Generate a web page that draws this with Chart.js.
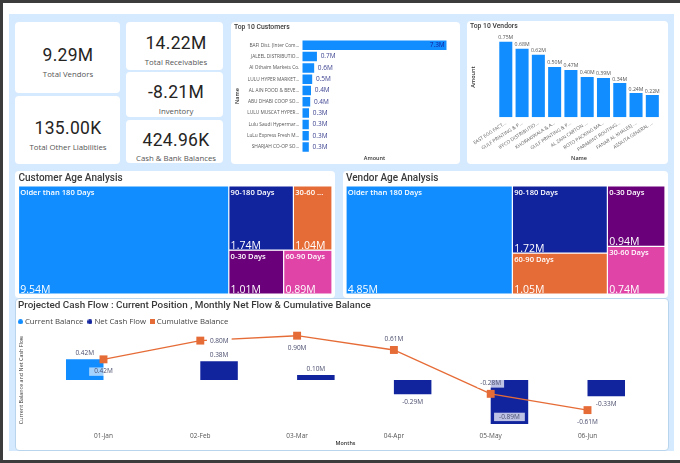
<!DOCTYPE html>
<html><head><meta charset="utf-8">
<script src="https://cdn.jsdelivr.net/npm/chart.js@4"></script>
<style>
html,body{margin:0;padding:0;background:#fff;width:680px;height:463px;overflow:hidden}
#root{position:absolute;left:0;top:0;width:680px;height:463px;filter:blur(.35px);font-family:"Open Sans",sans-serif}
.f{position:absolute;background:#3c3c3c}
#panel{position:absolute;left:9px;top:14px;width:665px;height:437px;background:#d6eaff}
.card{position:absolute;background:#fff;border-radius:4px}
canvas{position:absolute}
.kv,.kl{position:absolute;transform:translate(-50%,-50%);white-space:nowrap;text-align:center}
.kv{font:400 17.5px Roboto,sans-serif;letter-spacing:.3px;color:#252423}
.kl{font:400 7.8px "Open Sans",sans-serif;color:#555}
</style></head><body><div id="root">
<div class="f" style="left:0;top:0;width:680px;height:3px"></div>
<div class="f" style="left:0;top:0;width:3px;height:463px"></div>
<div class="f" style="left:0;top:460px;width:680px;height:3px"></div>
<div id="panel"></div>
<div class="card" style="left:15px;top:22px;width:105px;height:71px"></div>
<div class="card" style="left:15px;top:96px;width:105px;height:68px"></div>
<div class="card" style="left:126px;top:22px;width:97px;height:48px"></div>
<div class="card" style="left:126px;top:72px;width:97px;height:45px"></div>
<div class="card" style="left:126px;top:120px;width:97px;height:43px"></div>
<div class="card" style="left:231px;top:22px;width:229px;height:142px"></div>
<div class="card" style="left:467px;top:21px;width:201px;height:143px"></div>
<div class="card" style="left:15px;top:171px;width:320px;height:127px"></div>
<div class="card" style="left:343px;top:171px;width:325px;height:127px"></div>
<div class="card" style="left:15px;top:298px;width:652px;height:151px;border:1px solid #b9d5ee;box-sizing:content-box"></div>
<canvas id="cCust" style="left:231px;top:22px" width="229" height="142"></canvas>
<canvas id="cVend" style="left:467px;top:21px" width="201" height="143"></canvas>
<canvas id="cAgeC" style="left:15px;top:171px" width="320" height="127"></canvas>
<canvas id="cAgeV" style="left:343px;top:171px" width="325" height="127"></canvas>
<canvas id="cCash" style="left:15px;top:298px" width="653" height="152"></canvas>
</div>
<script>
const kpiValues=["9.29M","135.00K","14.22M","-8.21M","424.96K"];
const kpiLabels=["Total Vendors","Total Other Liabilities","Total Receivables","Inventory","Cash & Bank Balances"];

const customerNames=["BAFI Dist. (Inter Com...","JALEEL DISTRIBUTIO...","Al Othaim Markets Co.","LULU HYPER MARKET...","AL AIN FOOD & BEVE...","ABU DHABI COOP SO...","LULU MUSCAT HYPER...","Lulu Saudi Hypermar...","LuLu Express Fresh M...","SHARJAH CO-OP SO..."];
const customerAmounts=[7.3,0.74,0.6,0.5,0.44,0.4,0.34,0.33,0.33,0.33];

const vendorNames=["EAST EGG FACT...","GULF PRINTING & P...","IFFCO DISTRIBUTIO...","KHORAKIWALA & A...","GULF PRINTING & P...","AL ZAIN CARTON ...","ROTO PACKING MA...","PARAMINT ROUTING...","FANAR AL KHALEEJ ...","ASSIUTA GENERAL ..."];
const vendorAmounts=[0.75,0.68,0.62,0.50,0.47,0.40,0.39,0.34,0.24,0.22];

const customerAgeLabels=["Older than 180 Days","90-180 Days","30-60 Days","0-30 Days","60-90 Days"];
const customerAgeValues=[9.54,1.74,1.04,1.01,0.89];
const vendorAgeLabels=["Older than 180 Days","90-180 Days","60-90 Days","0-30 Days","30-60 Days"];
const vendorAgeValues=[4.85,1.72,1.05,0.94,0.74];

const months=["01-Jan","02-Feb","03-Mar","04-Apr","05-May","06-Jun"];
const currentBalance=[0.42,null,null,null,null,null];
const netCashFlow=[null,0.38,0.10,-0.29,-0.89,-0.33];
const cumulativeBalance=[0.42,0.80,0.90,0.61,-0.28,-0.61];

/* ---------- style ---------- */
const BLUE="#118DFF",NAVY="#12239E",ORANGE="#E66C37",PURPLE="#6B007B",PINK="#E044A7";
const FONT='"Open Sans",sans-serif';
Chart.defaults.font.family=FONT;
Chart.defaults.animation=false;
Chart.defaults.responsive=false;
Chart.defaults.plugins.tooltip.enabled=false;

const kpiPos=[[68,55,73.5],[68,127.5,146.5],[176,43,62],[176,91.5,111],[176,139.5,158]];
const root=document.getElementById('root');
kpiValues.forEach((v,i)=>{
  const a=document.createElement('div');a.className='kv';a.textContent=v;
  a.style.left=kpiPos[i][0]+'px';a.style.top=kpiPos[i][1]+'px';root.appendChild(a);
  const b=document.createElement('div');b.className='kl';b.textContent=kpiLabels[i];
  b.style.left=kpiPos[i][0]+'px';b.style.top=kpiPos[i][2]+'px';root.appendChild(b);
});

function fixW(w){return s=>{s.width=w;};}
function fixH(h){return s=>{s.height=h;};}
const titleCfg=(text,size,weight,pt,pb)=>({display:true,text,align:'start',color:'#3a3a3a',font:{family:'Roboto',size,weight},padding:{top:pt,bottom:pb}});
const axTitle=(text,pad,weight,size)=>({display:true,text,color:'#333',font:{size:size||5.5,weight:weight||'600'},padding:pad});

function textLabels(fn){return {id:'textLabels',afterDatasetsDraw(chart){
  const ctx=chart.ctx;ctx.save();
  chart.data.datasets.forEach((ds,di)=>{
    const meta=chart.getDatasetMeta(di);
    meta.data.forEach((el,i)=>{
      const v=ds.data[i];if(v===null||v===undefined)return;
      const o=fn(di,i,v,el);if(!o)return;
      ctx.font=o.font||`400 6.5px ${FONT}`;
      ctx.textBaseline='middle';ctx.textAlign=o.align||'center';
      const x=el.x+(o.dx||0);const y=el.y+(o.dy||0);
      if(o.bg){
        const w=ctx.measureText(o.text).width+(o.pad||3);
        ctx.fillStyle=o.bg;ctx.fillRect(x-w/2,y-4.2,w,8.4);
      }
      ctx.fillStyle=o.color||'#4b4f6e';ctx.fillText(o.text,x,y);
    });
  });
  ctx.restore();
}};}

/* ---------- Top 10 Customers ---------- */
new Chart(document.getElementById('cCust'),{
  type:'bar',
  data:{labels:customerNames,datasets:[{label:'Amount',data:customerAmounts,backgroundColor:BLUE,barPercentage:.84,categoryPercentage:1}]},
  options:{indexAxis:'y',
    layout:{padding:{left:3,right:13.3}},
    plugins:{legend:{display:false},title:titleCfg('Top 10 Customers',6.8,'500',1.7,7.8)},
    scales:{
      x:{min:0,max:7.3,grid:{display:false},border:{display:false},ticks:{display:false},afterFit:fixH(11.35),title:axTitle('Amount',{top:0,bottom:2.7})},
      y:{grid:{display:false,drawTicks:false},border:{display:false},afterFit:fixW(68.3),
         ticks:{autoSkip:false,font:{size:4.8},color:'#555',padding:3},title:axTitle('Name',{top:0,bottom:0})}
    }},
  plugins:[textLabels((di,i,v)=>{
    const t=v.toFixed(1)+'M';
    return i===0?{text:t,align:'right',dx:-2,color:'#12239E'}:{text:t,align:'left',dx:3.7,color:'#3d4390'};
  })]
});

/* ---------- Top 10 Vendors ---------- */
new Chart(document.getElementById('cVend'),{
  type:'bar',
  data:{labels:vendorNames,datasets:[{label:'Amount',data:vendorAmounts,backgroundColor:BLUE,barPercentage:.8,categoryPercentage:1}]},
  options:{
    layout:{padding:{left:3,right:7.54}},
    plugins:{legend:{display:false},title:titleCfg('Top 10 Vendors',6.8,'500',1.7,5.8)},
    scales:{
      y:{min:0,max:.8,grid:{display:false},border:{display:false},ticks:{display:false},afterFit:fixW(27.66),title:axTitle('Amount',{top:0,bottom:0})},
      x:{grid:{display:false,drawTicks:false},border:{display:false},afterFit:fixH(46.7),
         ticks:{autoSkip:false,minRotation:33,maxRotation:33,font:{size:4.8},color:'#666',padding:3},title:axTitle('Name',{top:0,bottom:2.7})}
    }},
  plugins:[textLabels((di,i,v)=>({text:v.toFixed(2)+'M',dy:-4,font:`400 5.2px ${FONT}`,color:'#555'}))]
});

/* ---------- Treemaps: bars through the library's scales ---------- */
function sumNode(n,vals){return typeof n==='number'?vals[n]:n.kids.reduce((a,k)=>a+sumNode(k,vals),0);}
function layoutNode(n,vals,x0,x1,y0,y1,out){
  if(typeof n==='number'){out[n]={x0,x1,y0,y1};return;}
  const tot=sumNode(n,vals);let p=n.dir==='h'?x0:y0;const span=n.dir==='h'?x1-x0:y1-y0;
  n.kids.forEach(k=>{
    const d=span*sumNode(k,vals)/tot;
    if(n.dir==='h')layoutNode(k,vals,p,p+d,y0,y1,out);else layoutNode(k,vals,x0,x1,p,p+d,out);
    p+=d;
  });
}
const treemapPlugin=(rects,vals,names)=>({id:'treemap',
  afterDatasetsUpdate(chart){
    const f=chart.scales.frac;
    chart.getDatasetMeta(0).data.forEach((el,i)=>{
      const a=f.getPixelForValue(rects[i].y0),b=f.getPixelForValue(rects[i].y1);
      el.y=(a+b)/2;el.height=b-a;
    });
  },
  afterDatasetsDraw(chart){
    const ctx=chart.ctx,f=chart.scales.frac,xs=chart.scales.x;ctx.save();
    names.forEach((nm,i)=>{
      const L=xs.getPixelForValue(rects[i].x0),R=xs.getPixelForValue(rects[i].x1);
      const T=f.getPixelForValue(rects[i].y0),B=f.getPixelForValue(rects[i].y1);
      ctx.fillStyle='#fff';ctx.textAlign='left';
      ctx.font=`600 7.6px ${FONT}`;ctx.textBaseline='top';
      let s=nm;
      if(ctx.measureText(s).width>R-L-3){
        const parts=s.split(' ');parts.pop();s=parts.join(' ')+' ...';
      }
      ctx.fillText(s,L+1.8,T+3);
      ctx.font=`400 10.5px ${FONT}`;ctx.textBaseline='alphabetic';
      ctx.fillText(vals[i].toFixed(2)+'M',L+1.8,B-1);
    });
    ctx.restore();
  }});
function treemap(id,title,names,vals,colors,tree,pad){
  const rects=[];const total=vals.reduce((a,b)=>a+b,0);
  layoutNode(tree,vals,0,total,0,1,rects);
  new Chart(document.getElementById(id),{
    type:'bar',
    data:{labels:names,datasets:[{label:title,data:rects.map(r=>[r.x0,r.x1]),backgroundColor:colors,borderColor:'#fff',borderWidth:.6,borderSkipped:false,inflateAmount:0}]},
    options:{indexAxis:'y',layout:{padding:pad},
      plugins:{legend:{display:false},title:titleCfg(title,10,'500',1,2)},
      scales:{x:{display:false,min:0,max:total},y:{display:false},frac:{type:'linear',axis:'y',offset:false,display:false,min:0,max:1,reverse:true}}},
    plugins:[treemapPlugin(rects,vals,names)]
  });
}
treemap('cAgeC','Customer Age Analysis',customerAgeLabels,customerAgeValues,[BLUE,NAVY,ORANGE,PURPLE,PINK],
  {dir:'h',kids:[0,{dir:'v',kids:[{dir:'h',kids:[1,2]},{dir:'h',kids:[3,4]}]}]},{left:3.5,right:3,bottom:4});
treemap('cAgeV','Vendor Age Analysis',vendorAgeLabels,vendorAgeValues,[BLUE,NAVY,ORANGE,PURPLE,PINK],
  {dir:'h',kids:[0,{dir:'v',kids:[1,2]},{dir:'v',kids:[3,4]}]},{left:3,right:3,bottom:4});

/* ---------- Cash flow ---------- */
function swatch(color,size,round){
  const c=document.createElement('canvas');c.width=c.height=size;
  const x=c.getContext('2d');x.fillStyle=color;
  if(round){x.beginPath();x.arc(size/2,size/2,size/2,0,Math.PI*2);x.fill();}else x.fillRect(0,0,size,size);
  return c;
}
const legendSwatches=[swatch(BLUE,5,true),swatch(NAVY,5,true),swatch(ORANGE,5,false)];
const cashPlace={
  0:[{dy:-6.4}],
  1:[null,{dy:-6},{dy:-6},{dy:8},{dy:-7,bg:'rgba(255,255,255,.72)',pad:10},{dy:8}],
  2:[{dy:12.3,bg:'rgba(255,255,255,.62)',pad:10},{dx:19,dy:.5,bg:'#fff',pad:6},{dy:12.4},{dy:-10.6},{dy:-10.4,bg:'rgba(255,255,255,.72)',pad:6},{dy:12.4}]
};
new Chart(document.getElementById('cCash'),{
  data:{labels:months,datasets:[
    {type:'bar',label:'Current Balance',data:currentBalance,backgroundColor:BLUE,order:2,categoryPercentage:.775,barPercentage:1},
    {type:'bar',label:'Net Cash Flow',data:netCashFlow,backgroundColor:NAVY,order:2,categoryPercentage:.775,barPercentage:1},
    {type:'line',label:'Cumulative Balance',data:cumulativeBalance,borderColor:ORANGE,backgroundColor:ORANGE,borderWidth:1.4,clip:false,
     pointStyle:'rect',pointRadius:5.6,pointBackgroundColor:ORANGE,pointBorderColor:ORANGE,pointBorderWidth:0,tension:0,order:1}
  ]},
  options:{
    layout:{padding:{left:3,right:32.1}},
    plugins:{
      title:titleCfg('Projected Cash Flow : Current Position , Monthly Net Flow & Cumulative Balance',9.9,'500',2,0),
      legend:{display:true,position:'top',align:'start',labels:{usePointStyle:true,boxWidth:1,boxHeight:4.5,padding:6,color:'#444',font:{size:7.8},
        generateLabels(chart){
          return Chart.defaults.plugins.legend.labels.generateLabels(chart)
            .sort((a,b)=>a.datasetIndex-b.datasetIndex)
            .map(it=>Object.assign(it,{pointStyle:legendSwatches[it.datasetIndex],lineWidth:0,strokeStyle:'transparent'}));
        }}}
    },
    scales:{
      y:{min:-.9,max:.9,grid:{display:false},border:{display:false},ticks:{display:false},afterFit:fixW(37.1),
         title:axTitle('Current Balance and Net Cash Flow',{top:0,bottom:0},'400',5.4)},
      x:{grid:{display:false,drawTicks:false},border:{display:false},afterFit:fixH(25.6),
         ticks:{font:{size:6.5},color:'#555',padding:8},title:axTitle('Months',{top:0,bottom:3},'600',5.4)}
    }},
  plugins:[
    {id:'legendShift',afterLayout(chart){chart.legend.left-=4;}},
    textLabels((di,i,v)=>{
      const p=cashPlace[di][i];if(!p)return null;
      return Object.assign({text:v.toFixed(2)+'M'},p);
    })
  ]
});
</script></body></html>
